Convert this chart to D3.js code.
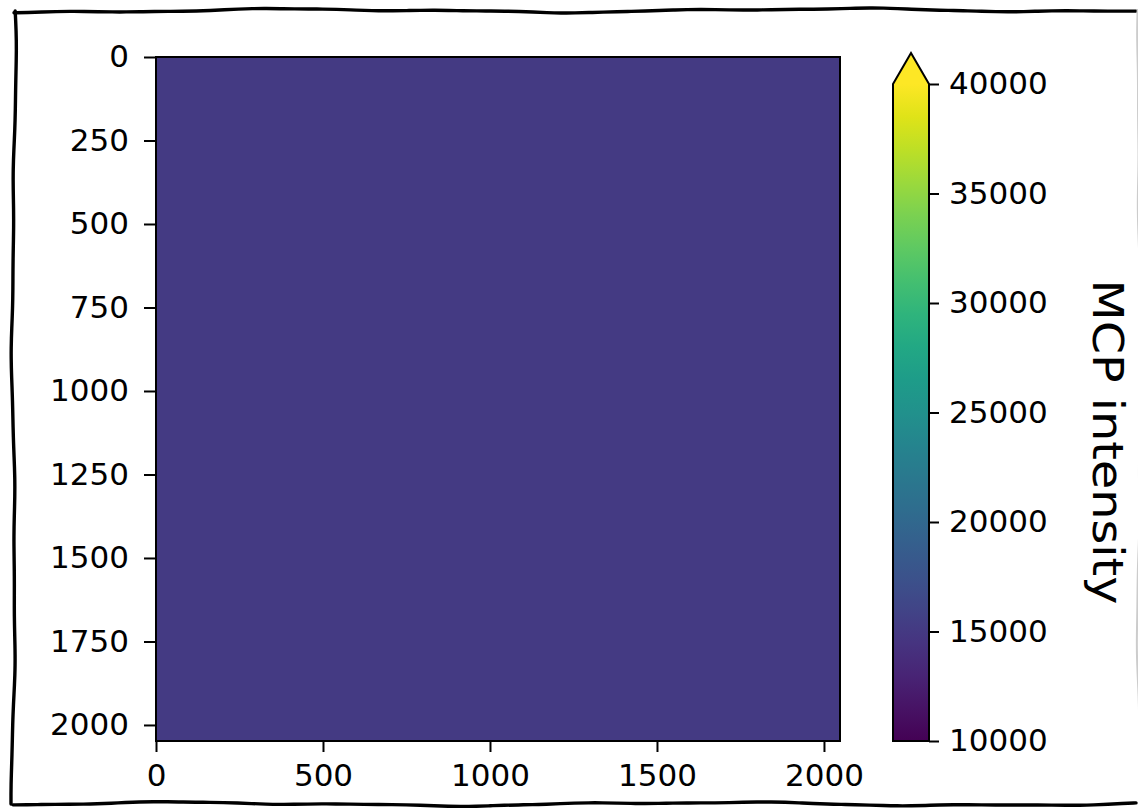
<!DOCTYPE html>
<html><head><meta charset="utf-8">
<script src="https://cdn.jsdelivr.net/npm/d3@7"></script>
<style>html,body{margin:0;padding:0;background:#fff;}svg{display:block;}</style>
</head><body>
<svg id="c" width="1138" height="812"></svg>
<script>
// ---- data ----
const imageSize = [2048, 2048];          // detector pixels (width, height)
const imageValues = [[15100]];           // (nearly uniform) MCP intensity
const xTicks = [0, 500, 1000, 1500, 2000];
const yTicks = [0, 250, 500, 750, 1000, 1250, 1500, 1750, 2000];
const cbarDomain = [10000, 40000];
const cbarTicks = [10000, 15000, 20000, 25000, 30000, 35000, 40000];
const cbarLabel = "MCP intensity";

const svg = d3.select("#c");
const font = "DejaVu Sans";
const fs = 31;

// ---- hand-drawn frame ----
function wob(t, seed, amp) {
  return amp * (Math.sin(t * 0.012 + seed) * 0.7 + Math.sin(t * 0.031 + seed * 2.3) * 0.35 + Math.sin(t * 0.07 + seed * 0.7) * 0.12);
}
const line = d3.line().curve(d3.curveBasis);
function edge(x0, y0, x1, y1, seed, amp) {
  const n = 80, pts = [];
  const len = Math.hypot(x1 - x0, y1 - y0);
  const nx = -(y1 - y0) / len, ny = (x1 - x0) / len;
  for (let i = 0; i <= n; i++) {
    const f = i / n, t = f * len;
    const o = wob(t, seed, amp);
    pts.push([x0 + (x1 - x0) * f + nx * o, y0 + (y1 - y0) * f + ny * o]);
  }
  return line(pts);
}
const fr = svg.append("g").attr("fill", "none").attr("stroke", "#000").attr("stroke-width", 3.4).attr("stroke-linecap", "round");
fr.append("path").attr("d", edge(14, 11, 1136, 10, 1.3, 2.2));
fr.append("path").attr("d", edge(14, 11, 13, 804, 4.1, 2.2));
fr.append("path").attr("d", edge(13, 804, 1136, 804, 2.7, 2.2));
fr.append("path").attr("d", edge(1139, 10, 1139, 804, 0.5, 2.0)).attr("stroke", "#ccc").attr("stroke-width", 2);

// ---- image axes ----
const x = d3.scaleLinear().domain([0, imageSize[0]]).range([156, 840]);
const y = d3.scaleLinear().domain([0, imageSize[1]]).range([57, 741]);
const color = d3.scaleSequential(d3.interpolateViridis).domain(cbarDomain);

const rows = imageValues.length, cols = imageValues[0].length;
const cw = imageSize[0] / cols, ch = imageSize[1] / rows;
imageValues.forEach((row, r) => row.forEach((v, c) => {
  svg.append("rect")
    .attr("x", x(c * cw)).attr("y", y(r * ch))
    .attr("width", x((c + 1) * cw) - x(c * cw)).attr("height", y((r + 1) * ch) - y(r * ch))
    .attr("fill", color(v));
}));

svg.append("rect").attr("x", x(0)).attr("y", y(0))
  .attr("width", x(imageSize[0]) - x(0)).attr("height", y(imageSize[1]) - y(0))
  .attr("fill", "none").attr("stroke", "#000").attr("stroke-width", 2);

const xAxis = svg.append("g").attr("transform", `translate(0,${y(imageSize[1])})`)
  .call(d3.axisBottom(x).tickValues(xTicks).tickSize(11).tickPadding(12).tickFormat(d3.format("d")));
const yAxis = svg.append("g").attr("transform", `translate(${x(0)},0)`)
  .call(d3.axisLeft(y).tickValues(yTicks).tickSize(12).tickPadding(15).tickFormat(d3.format("d")));

// ---- colorbar ----
const cbX0 = 893, cbX1 = 929;
const cy = d3.scaleLinear().domain(cbarDomain).range([741, 84]);
const defs = svg.append("defs");
const grad = defs.append("linearGradient").attr("id", "vg").attr("x1", 0).attr("y1", 1).attr("x2", 0).attr("y2", 0);
d3.range(0, 1.0001, 0.05).forEach(t => grad.append("stop").attr("offset", t).attr("stop-color", d3.interpolateViridis(t)));
svg.append("rect").attr("x", cbX0).attr("y", cy(cbarDomain[1])).attr("width", cbX1 - cbX0)
  .attr("height", cy(cbarDomain[0]) - cy(cbarDomain[1])).attr("fill", "url(#vg)");
const tipY = cy(cbarDomain[1]) - 31;
svg.append("path")
  .attr("d", `M${cbX0},${cy(cbarDomain[1])}L${(cbX0 + cbX1) / 2},${tipY}L${cbX1},${cy(cbarDomain[1])}Z`)
  .attr("fill", d3.interpolateViridis(1)).attr("stroke", "none");
svg.append("path")
  .attr("d", `M${cbX0},${cy(cbarDomain[0])}L${cbX0},${cy(cbarDomain[1])}L${(cbX0 + cbX1) / 2},${tipY}L${cbX1},${cy(cbarDomain[1])}L${cbX1},${cy(cbarDomain[0])}Z`)
  .attr("fill", "none").attr("stroke", "#000").attr("stroke-width", 2).attr("stroke-linejoin", "miter");
const cAxis = svg.append("g").attr("transform", `translate(${cbX1},0)`)
  .call(d3.axisRight(cy).tickValues(cbarTicks).tickSize(10).tickPadding(10).tickFormat(d3.format("d")));

[xAxis, yAxis, cAxis].forEach(g => {
  g.select(".domain").remove();
  g.selectAll(".tick line").attr("stroke", "#000").attr("stroke-width", 2);
  g.selectAll(".tick text").attr("font-family", font).attr("font-size", fs).attr("fill", "#000");
});

svg.append("text")
  .attr("transform", `translate(1093,442) rotate(90)`)
  .attr("text-anchor", "middle").attr("font-family", font).attr("font-size", 42).attr("fill", "#000")
  .attr("textLength", 325).attr("lengthAdjust", "spacingAndGlyphs")
  .text(cbarLabel);
</script>
</body></html>
